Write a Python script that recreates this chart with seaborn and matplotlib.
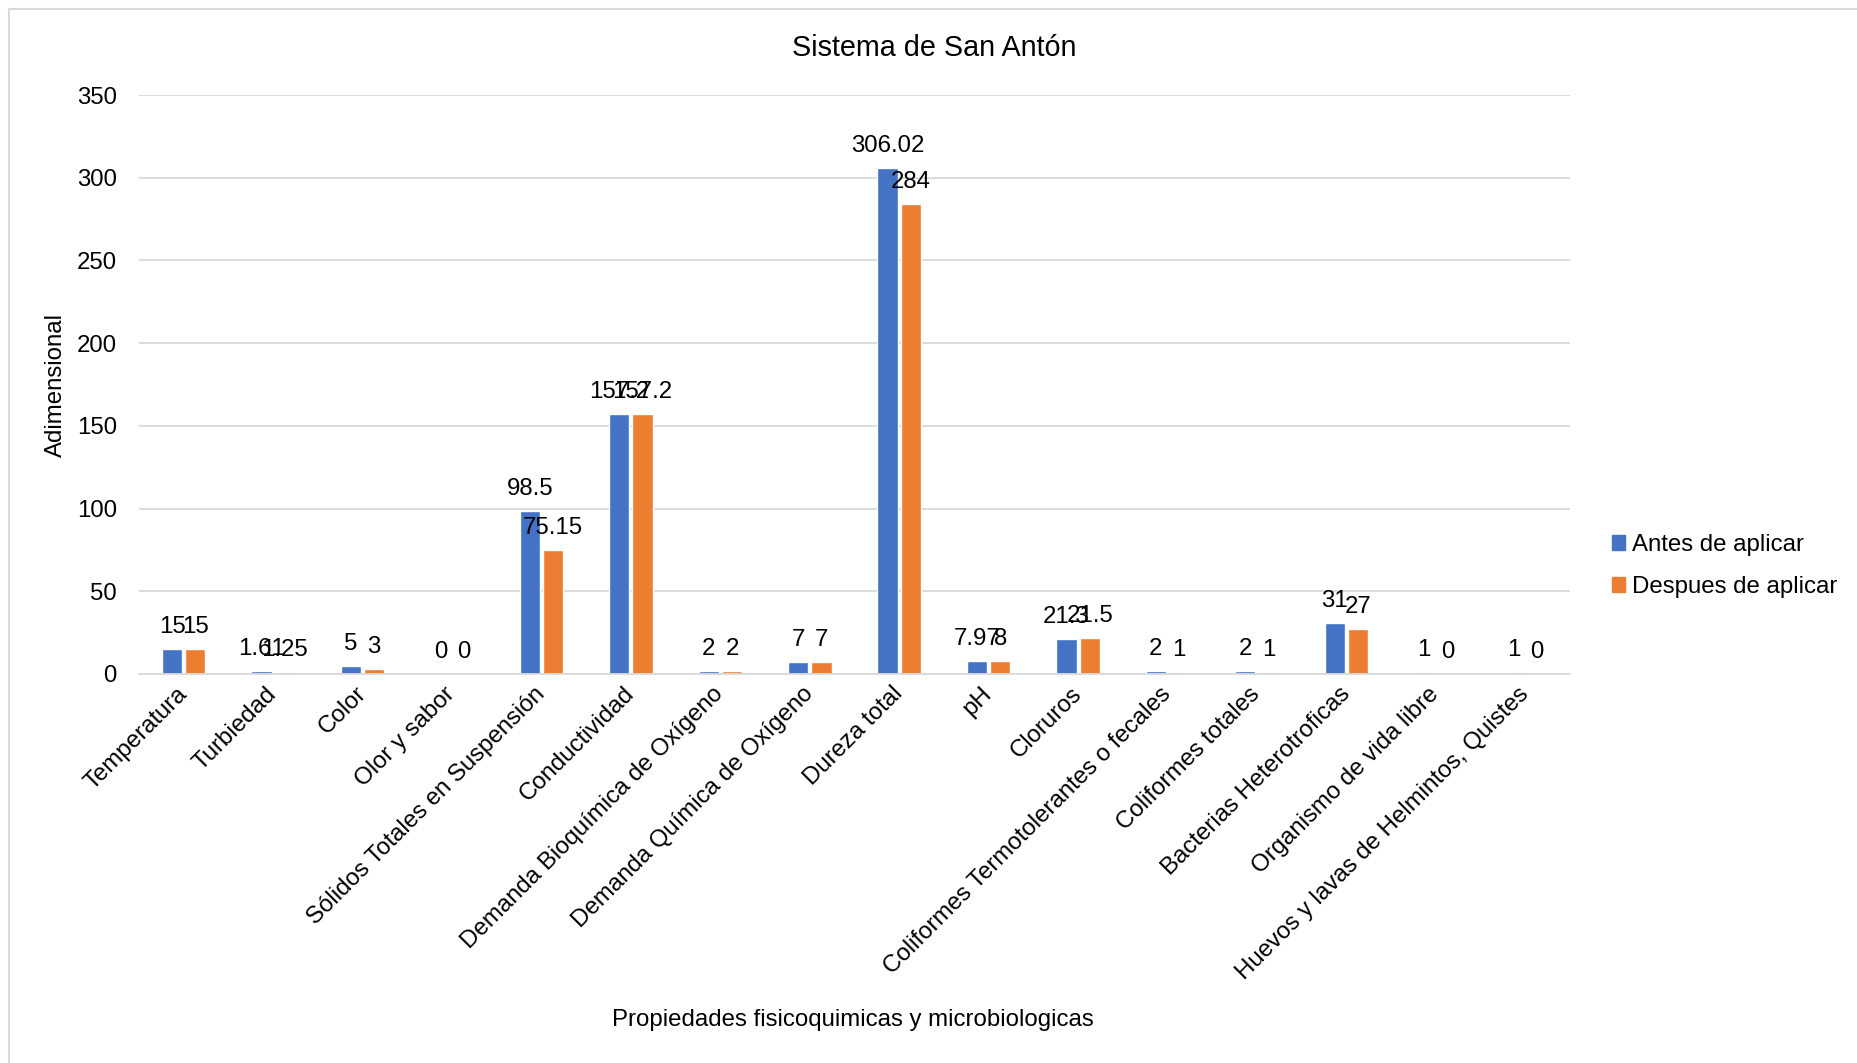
import matplotlib
matplotlib.use("Agg")
import matplotlib.pyplot as plt
from matplotlib.lines import Line2D
import seaborn as sns
import pandas as pd

propiedades = [
    "Temperatura", "Turbiedad", "Color", "Olor y sabor",
    "Sólidos Totales en Suspensión", "Conductividad",
    "Demanda Bioquímica de Oxígeno", "Demanda Química de Oxígeno",
    "Dureza total", "pH", "Cloruros",
    "Coliformes Termotolerantes o fecales", "Coliformes totales",
    "Bacterias Heterotroficas", "Organismo de vida libre",
    "Huevos y lavas de Helmintos, Quistes",
]
antes = [15, 1.61, 5, 0, 98.5, 157.2, 2, 7, 306.02, 7.97, 21.3, 2, 2, 31, 1, 1]
despues = [15, 1.25, 3, 0, 75.15, 157.2, 2, 7, 284, 8, 21.5, 1, 1, 27, 0, 0]
series = ["Antes de aplicar", "Despues de aplicar"]
colores = ["#4472C4", "#ED7D31"]
yticks = [0, 50, 100, 150, 200, 250, 300, 350]

df = pd.DataFrame({
    "Propiedad": propiedades * 2,
    "Serie": [series[0]] * len(antes) + [series[1]] * len(despues),
    "Valor": antes + despues,
})

sns.set_theme(style="white")
plt.rcParams["font.family"] = ["Liberation Sans", "DejaVu Sans"]
plt.rcParams["text.color"] = "#000000"

FS = 17.3

fig = plt.figure(figsize=(18.58, 10.63), dpi=100)
ax = fig.add_axes([139 / 1858, 1 - 674 / 1063, (1570 - 139) / 1858, (674 - 95) / 1063])

sns.barplot(data=df, x="Propiedad", y="Valor", hue="Serie", order=propiedades,
            hue_order=series, palette=colores, width=0.52, gap=0.13,
            errorbar=None, saturation=1, ax=ax)

# value labels on top of each bar
for cont, vals in zip(ax.containers, [antes, despues]):
    ax.bar_label(cont, labels=[f"{v:g}" for v in vals], padding=8,
                 fontsize=FS, color="#000000")

ax.set_ylim(0, 350)
ax.set_yticks(yticks)
ax.set_xlim(-0.5, len(propiedades) - 0.5)
ax.yaxis.grid(True, color="#d9d9d9", linewidth=1.3)
ax.set_axisbelow(True)
for s in ["left", "right", "top"]:
    ax.spines[s].set_visible(False)
ax.spines["bottom"].set_color("#d9d9d9")
ax.spines["bottom"].set_linewidth(1.3)
ax.tick_params(axis="y", length=0, pad=16, labelsize=FS, labelcolor="#000000")
ax.tick_params(axis="x", length=0, pad=12, labelsize=FS, labelcolor="#000000")
plt.setp(ax.get_xticklabels(), rotation=45, ha="right", va="center",
         rotation_mode="anchor")
ax.set_xlabel("")
ax.set_ylabel("")

fig.text(0.503, 1 - 48 / 1063, "Sistema de San Antón", ha="center", va="center",
         fontsize=20.7)
fig.text(853 / 1858, 1 - 1020 / 1063, "Propiedades fisicoquimicas y microbiologicas",
         ha="center", va="center", fontsize=FS)
fig.text(56 / 1858, 1 - 385 / 1063, "Adimensional", ha="center", va="center",
         rotation=90, fontsize=FS)

ax.get_legend().remove()
handles = [plt.Rectangle((0, 0), 1, 1, color=c) for c in colores]
fig.legend(handles, series, loc="center left",
           bbox_to_anchor=(1590 / 1858, 1 - 566 / 1063), frameon=False,
           fontsize=FS, handlelength=0.55, handleheight=0.55, handletextpad=0.3,
           labelspacing=0.85)

# chart frame
fig.add_artist(Line2D([9 / 1858, 9 / 1858], [0, 1 - 9 / 1063],
                      transform=fig.transFigure, color="#d9d9d9", linewidth=1.5))
fig.add_artist(Line2D([9 / 1858, 1], [1 - 9 / 1063, 1 - 9 / 1063],
                      transform=fig.transFigure, color="#d9d9d9", linewidth=1.5))

fig.savefig("out.png", dpi=100, facecolor="white")
